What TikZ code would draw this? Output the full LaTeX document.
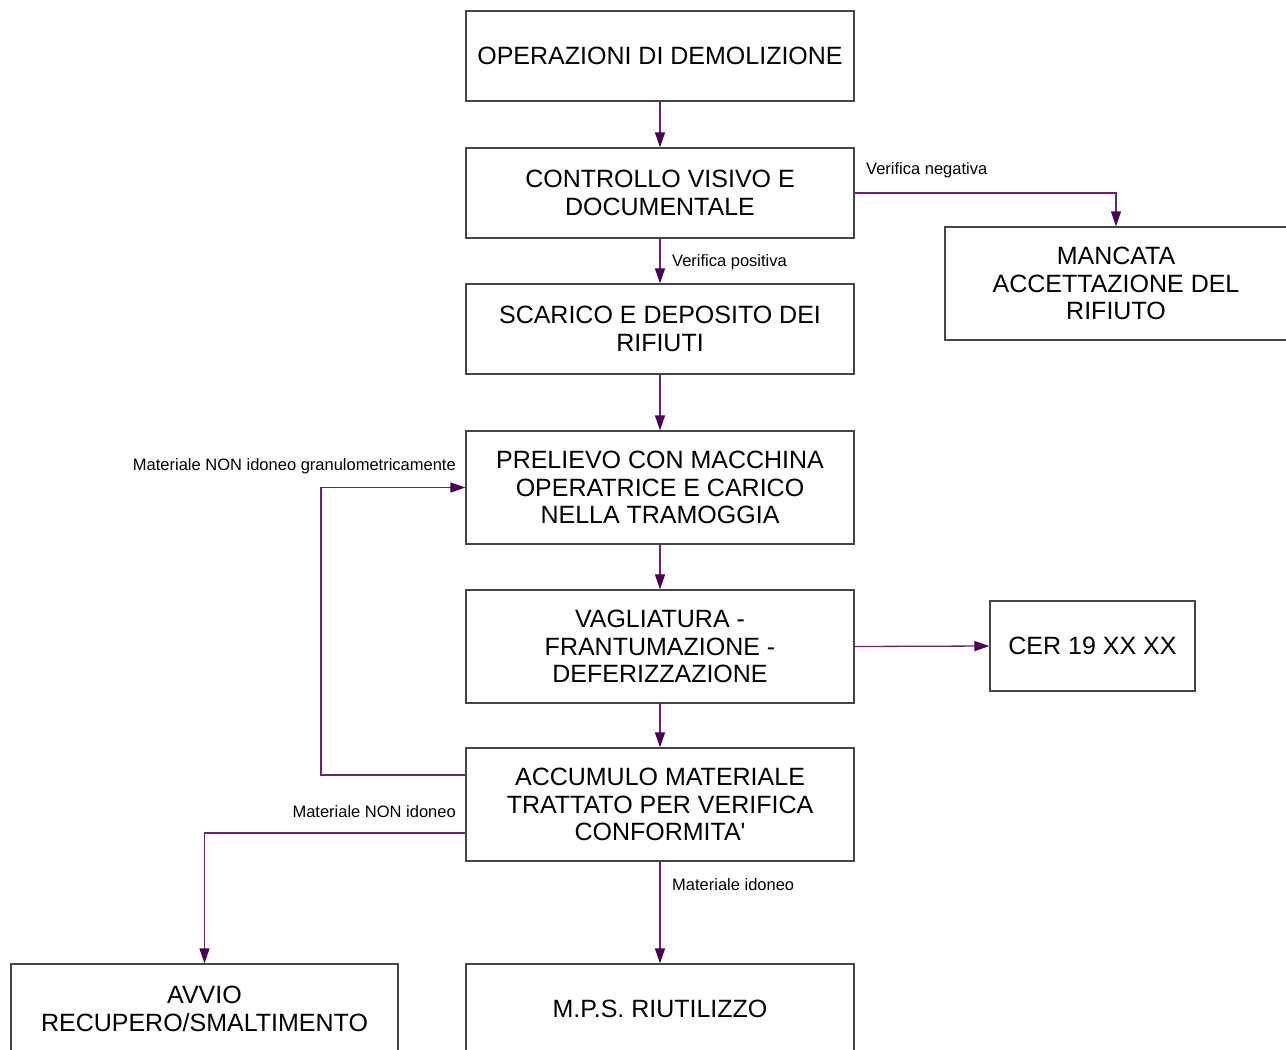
\documentclass[tikz,border=0pt]{standalone}
\usepackage{fontspec}
\setmainfont{Liberation Sans}
\newfontfamily\plainfont{Liberation Sans}
\usetikzlibrary{arrows.meta}
\definecolor{arrline}{RGB}{105,35,115}
\definecolor{arrhead}{RGB}{75,0,85}
\definecolor{boxline}{RGB}{70,70,70}
\tikzset{
  procbox/.style={draw=boxline, line width=1.3pt, inner sep=0pt, align=center,
    minimum width=388pt, font=\plainfont\fontsize{25}{27.5}\selectfont},
  shortbox/.style={procbox, minimum height=90pt},
  tallbox/.style={procbox, minimum height=113pt},
  flow/.style={draw=arrline, line width=1.3pt,
    -{Triangle[length=15pt,width=10pt,fill=arrhead,color=arrhead]}},
  flowlabel/.style={inner sep=0pt, font=\plainfont\fontsize{16.5}{19}\selectfont}
}
\begin{document}
\begin{tikzpicture}[x=1pt,y=-1pt]
\useasboundingbox (0,0) rectangle (1286,1050);
\clip (0,0) rectangle (1286,1050);
\node[shortbox] (b1) at (660,56) {OPERAZIONI DI DEMOLIZIONE};
\node[shortbox] (b2) at (660,193) {CONTROLLO VISIVO E\\DOCUMENTALE};
\node[shortbox] (b3) at (660,329) {SCARICO E DEPOSITO DEI\\RIFIUTI};
\node[tallbox] (b4) at (660,487.5) {PRELIEVO CON MACCHINA\\OPERATRICE E CARICO\\NELLA TRAMOGGIA};
\node[tallbox] (b5) at (660,646.5) {VAGLIATURA -\\FRANTUMAZIONE -\\DEFERIZZAZIONE};
\node[tallbox] (b6) at (660,804.5) {ACCUMULO MATERIALE\\TRATTATO PER VERIFICA\\CONFORMITA'};
\node[shortbox] (b7) at (660,1009) {M.P.S. RIUTILIZZO};
\node[shortbox, minimum width=387pt] (b8) at (204.5,1009) {AVVIO\\RECUPERO/SMALTIMENTO};
\node[tallbox, minimum width=342pt] (m) at (1116,283.5) {MANCATA\\ACCETTAZIONE DEL\\RIFIUTO};
\node[shortbox, minimum width=205pt] (cer) at (1092.5,646) {CER 19 XX XX};

\draw[flow] (b1.south) -- (b2.north);
\draw[flow] (b2.east) -| (m.north);
\draw[flow] (b2.south) -- (b3.north);
\draw[flow] (b3.south) -- (b4.north);
\draw[flow] (b4.south) -- (b5.north);
\draw[flow] (b5.south) -- (b6.north);
\draw[flow] (b5.east) -- (cer.west);
\draw[flow] ([yshift=29.5pt]b6.west) -| (321,700) |- (b4.west);
\draw[flow] ([yshift=-28.5pt]b6.west) -| (b8.north);
\draw[flow] (b6.south) -- (b7.north);

\node[flowlabel, anchor=west] (l1) at (866,170) {Verifica negativa};
\node[flowlabel, anchor=west] (l2) at (672,262) {Verifica positiva};
\node[flowlabel, anchor=east] (l3) at (456,466) {Materiale NON idoneo granulometricamente};
\node[flowlabel, anchor=east] (l4) at (456,812) {Materiale NON idoneo};
\node[flowlabel, anchor=west] (l5) at (672,885) {Materiale idoneo};
\end{tikzpicture}
\end{document}
